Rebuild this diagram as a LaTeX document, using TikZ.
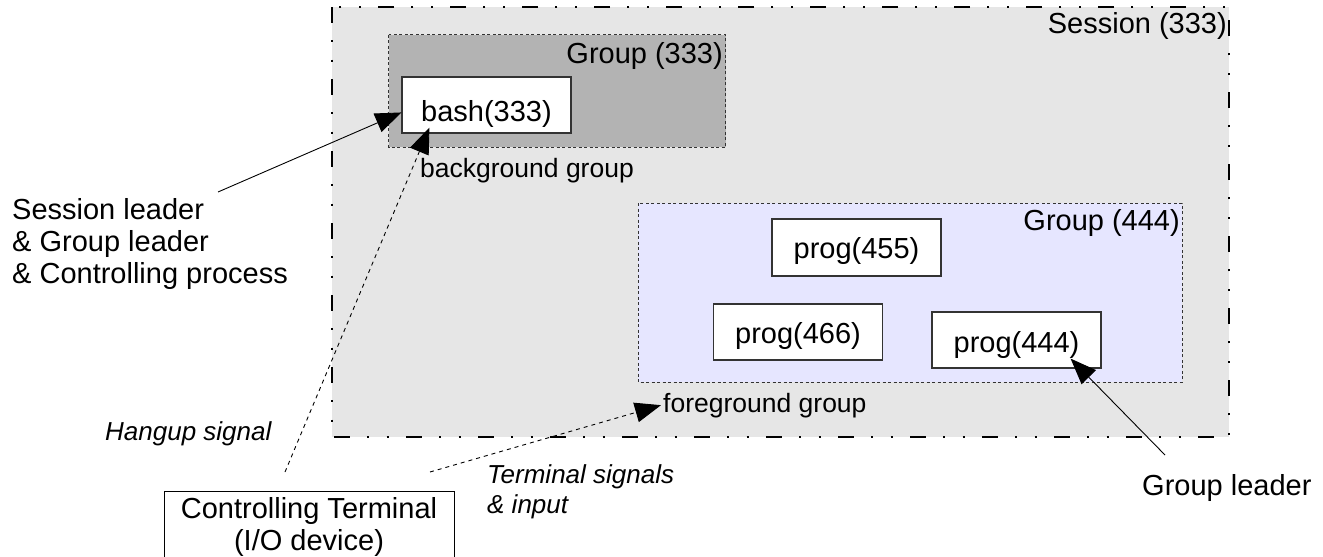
\documentclass[tikz,border=0pt]{standalone}
\usepackage{fontspec}
\setmainfont{Liberation Sans}
\usetikzlibrary{arrows.meta}
\definecolor{sessfill}{HTML}{E6E6E6}
\definecolor{bggroup}{HTML}{B3B3B3}
\definecolor{fggroup}{HTML}{E6E6FF}
\definecolor{boxline}{HTML}{333333}
\tikzset{
  bigfont/.style={font=\fontsize{29}{32}\selectfont},
  labfont/.style={font=\fontsize{26.5}{30}\selectfont},
  itfont/.style={font=\fontsize{26}{29.5}\selectfont\itshape},
  sessionbox/.style={fill=sessfill, draw=black, line width=1.4pt,
    dash pattern=on 16pt off 17.3pt on 2pt off 17.3pt on 2pt off 17.4pt},
  groupbox/.style={draw=boxline, line width=1pt, dash pattern=on 3pt off 2.5pt},
  procbox/.style={draw=boxline, fill=white, line width=1.2pt, inner sep=0pt,
    minimum width=169pt, bigfont},
  plain/.style={inner sep=0pt},
  conn/.style={draw=black, line width=0.9pt, -{Triangle[length=26pt,width=20pt]}},
  dconn/.style={conn, dash pattern=on 4pt off 4pt},
}
\begin{document}
\begin{tikzpicture}[x=1pt,y=-1pt]
\path[use as bounding box, clip] (0,0) rectangle (1323,557);

% session
\draw[sessionbox] (332,7) rectangle (1229,437);
\node[plain, bigfont, anchor=base east] (sesslab) at (1227,33) {Session (333)};

% background group
\draw[groupbox, fill=bggroup] (388.5,34.5) rectangle (725.5,147);
\node[plain, bigfont, anchor=base east] (g333lab) at (723,63) {Group (333)};
\node[procbox, text height=44.7pt, text depth=11.3pt] (bash) at (486.5,105) {bash(333)};
\node[plain, labfont, anchor=base west] (bg) at (420,177) {background group};

% foreground group
\draw[groupbox, fill=fggroup] (638,203) rectangle (1182,382);
\node[plain, bigfont, anchor=base east] (g444lab) at (1180,230) {Group (444)};
\node[procbox, text height=39pt, text depth=18pt] (p455) at (856.5,247.5) {prog(455)};
\node[procbox, text height=39pt, text depth=17pt] (p466) at (798,332) {prog(466)};
\node[procbox, text height=40pt, text depth=16pt] (p444) at (1016.5,340) {prog(444)};
\node[plain, labfont, anchor=base west] (fg) at (663,412) {foreground group};

% left labels (base anchor = last line)
\node[plain, bigfont, align=left, anchor=base west] (sl) at (12,283)
  {Session leader\\\& Group leader\\\& Controlling process};
\node[plain, itfont, anchor=base west] (hang) at (105,440) {Hangup signal};
\node[plain, itfont, align=left, anchor=base west] (tsig) at (487,513)
  {Terminal signals\\\& input};
\node[plain, bigfont, anchor=base west] (gl) at (1142,495) {Group leader};

% controlling terminal
\node[draw=black, line width=1pt, fill=white, bigfont, align=center,
  minimum width=290pt, inner xsep=0pt, inner ysep=6pt, anchor=north] (term)
  at (309,491) {Controlling Terminal\\(I/O device)};

% connectors
\coordinate (slt) at (218,192);
\coordinate (hupt) at (285,472);
\coordinate (tst) at (430,472);
\coordinate (glt) at (1165,455);
\draw[conn] (slt) -- (bash.185);
\draw[dconn] (hupt) -- ([shift={(28,-6)}]bash.south west);
\draw[dconn] (tst) -- ([shift={(-2,0)}]fg.west);
\draw[conn] (glt) -- ([shift={(-31,-10)}]p444.south east);
\end{tikzpicture}
\end{document}
